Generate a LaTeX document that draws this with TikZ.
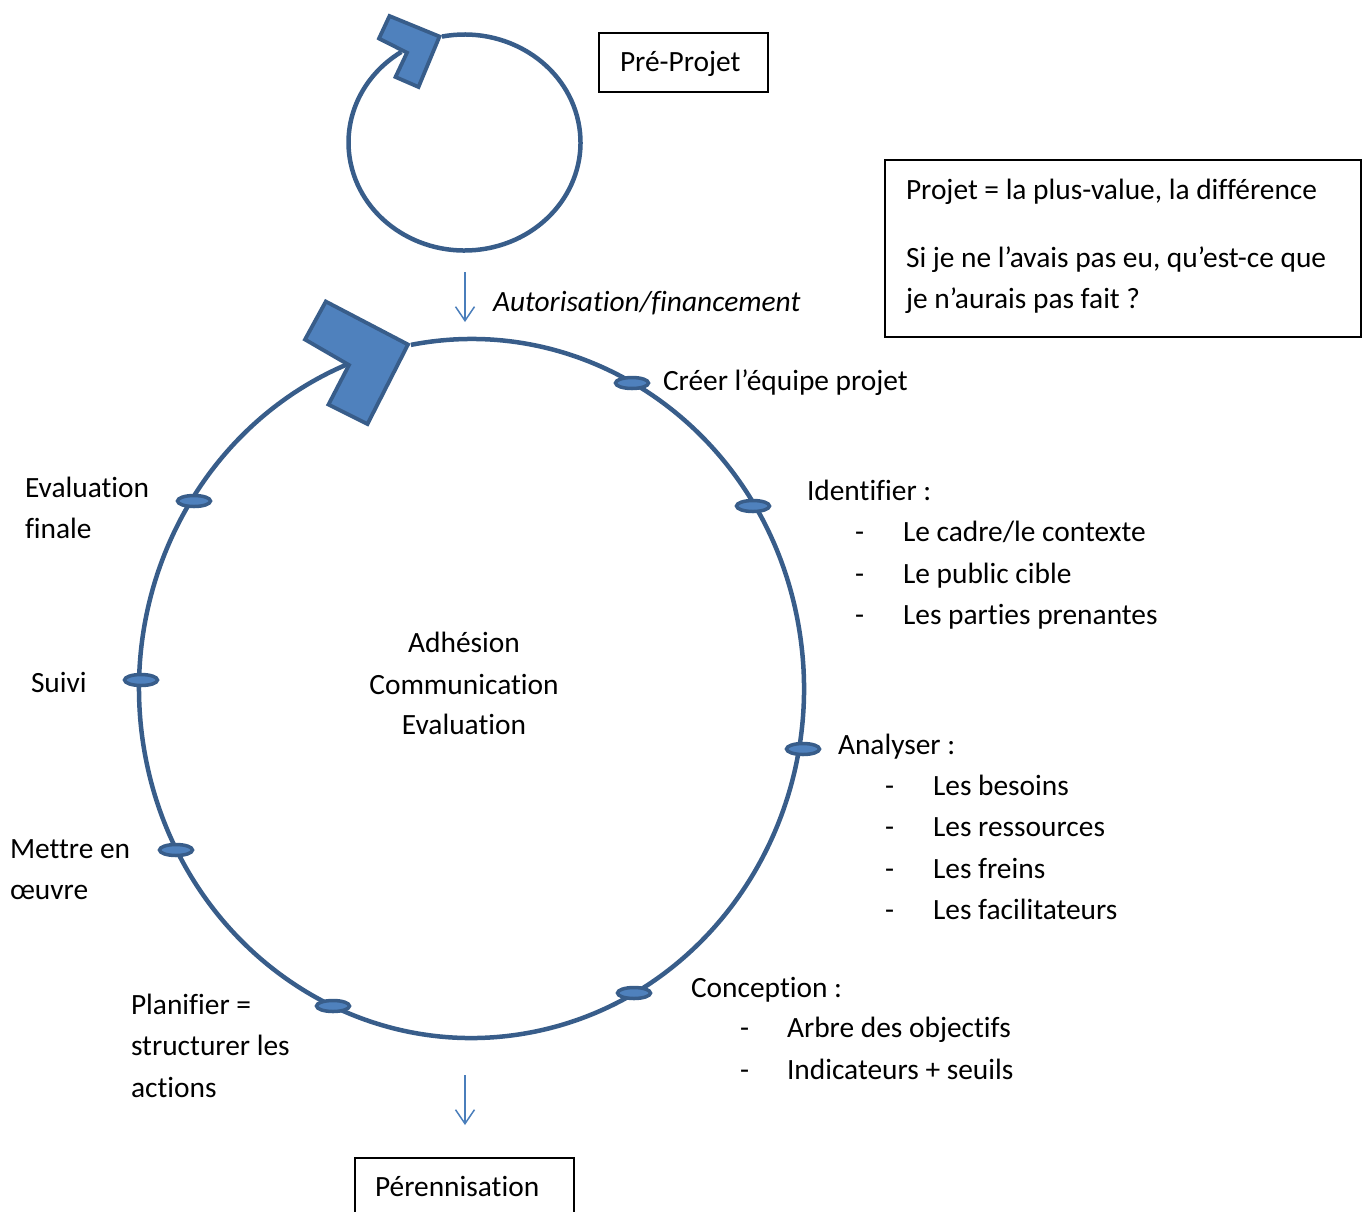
\documentclass[tikz,border=0pt]{standalone}
\usepackage{fontspec}
\setmainfont{Carlito}[Ligatures={NoCommon}]
\usetikzlibrary{arrows.meta,shapes.geometric}
\definecolor{lineblue}{HTML}{385D8A}
\definecolor{fillblue}{HTML}{4F81BD}
\definecolor{arrowblue}{HTML}{4A7EBB}
\begin{document}
\begin{tikzpicture}[x=1pt,y=-1pt,
  txt/.style={inner sep=0pt, outer sep=0pt, anchor=base west, font=\fontsize{29.4}{35}\selectfont},
  ctxt/.style={txt, anchor=base},
  itxt/.style={txt, font=\fontsize{29.4}{35}\selectfont\itshape},
  ring/.style={draw=lineblue, line width=4.5pt},
  headshape/.style={draw=lineblue, fill=fillblue, line width=3.8pt, line join=miter},
  marker/.style={ellipse, draw=lineblue, fill=fillblue, line width=3.5pt, minimum width=33pt, minimum height=11pt, inner sep=0pt},
  flowarrow/.style={draw=arrowblue, line width=1.5pt, -{Straight Barb[length=14pt,width=19pt]}},
  framebox/.style={draw=black, line width=1.3pt, outer sep=0pt, anchor=north west}
]
\useasboundingbox (0,0) rectangle (1368,1211);

% small circular arrow (pre-projet)
\coordinate (c1) at (464.5,142.5);
\draw[ring] (c1) ++(-101.2:116 and 108) arc[start angle=-101.2, end angle=237, x radius=116, y radius=108];
\draw[headshape] (389.5,16) -- (439.5,36.5) -- (418.5,87) -- (395.5,77) -- (407,52.7) -- (379,38.5) -- cycle;

% big circular arrow (project cycle)
\coordinate (c2) at (471.5,688.5);
\draw[ring] (c2) ++(-100.5:332.5 and 349.5) arc[start angle=-100.5, end angle=248, x radius=332.5, y radius=349.5];
\draw[headshape] (325.8,301.5) -- (408,344.5) -- (367.5,424) -- (328.5,404.5) -- (349,365) -- (305,339.5) -- cycle;

% markers on the cycle
\node[marker] (mcreer) at (632,383) {};
\node[marker] (mident) at (753,506) {};
\node[marker] (manal) at (803,749) {};
\node[marker] (mconc) at (634,993) {};
\node[marker] (mplan) at (333,1006) {};
\node[marker] (mmettre) at (176,850) {};
\node[marker] (msuivi) at (141,680) {};
\node[marker] (meval) at (194,501) {};

% boxes
\node[framebox, align=left, inner xsep=21pt, inner ysep=8pt, text width=127pt, text height=30pt, text depth=13pt,
      font=\fontsize{29.4}{35}\selectfont] (preprojet) at (599,33) {Pré-Projet};
\node[framebox, minimum width=476pt, minimum height=177pt, inner sep=0pt] (defbox) at (885,160) {};
\node[txt] (def1) at (906,199) {Projet = la plus-value, la différence};
\node[txt] (def2) at (906,267) {Si je ne l’avais pas eu, qu’est-ce que};
\node[txt] (def3) at (906,308) {je n’aurais pas fait ?};
\node[framebox, align=left, inner xsep=20pt, inner ysep=8pt, text width=179pt, text height=30pt, text depth=36pt,
      font=\fontsize{29.4}{35}\selectfont] (perenn) at (355,1158) {Pérennisation};

% flow arrows
\coordinate (a1s) at (465,272);
\coordinate (a1e) at (465,322);
\draw[flowarrow] (a1s) -- (a1e);
\node[itxt] (autor) at (493,311) {Autorisation/financement};
\coordinate (a2s) at (465,1075);
\coordinate (a2e) at (465,1125);
\draw[flowarrow] (a2s) -- (a2e);

% centre text
\node[ctxt] (adh) at (464,652) {Adhésion};
\node[ctxt] (comm) at (464,694) {Communication};
\node[ctxt] (evalc) at (464,734) {Evaluation};

% right labels
\node[txt] (creer) at (663,390) {Créer l’équipe projet};
\node[txt] (ident) at (807,500) {Identifier :};
\node[txt] (identd1) at (855,541) {-};
\node[txt] (ident1) at (903,541) {Le cadre/le contexte};
\node[txt] (identd2) at (855,583) {-};
\node[txt] (ident2) at (903,583) {Le public cible};
\node[txt] (identd3) at (855,624) {-};
\node[txt] (ident3) at (903,624) {Les parties prenantes};

\node[txt] (anal) at (838,754) {Analyser :};
\node[txt] (anald1) at (885,795) {-};
\node[txt] (anal1) at (933,795) {Les besoins};
\node[txt] (anald2) at (885,836) {-};
\node[txt] (anal2) at (933,836) {Les ressources};
\node[txt] (anald3) at (885,878) {-};
\node[txt] (anal3) at (933,878) {Les freins};
\node[txt] (anald4) at (885,919) {-};
\node[txt] (anal4) at (933,919) {Les facilitateurs};

\node[txt] (conc) at (691,997) {Conception :};
\node[txt] (concd1) at (740,1037) {-};
\node[txt] (conc1) at (787,1037) {Arbre des objectifs};
\node[txt] (concd2) at (740,1079) {-};
\node[txt] (conc2) at (787,1079) {Indicateurs + seuils};

% left labels
\node[txt] (evalf1) at (25,497) {Evaluation};
\node[txt] (evalf2) at (25,538) {finale};
\node[txt] (suivi) at (31,692) {Suivi};
\node[txt] (mettre1) at (10,858) {Mettre en};
\node[txt] (mettre2) at (10,899) {œuvre};
\node[txt] (plan1) at (131,1014) {Planifier =};
\node[txt] (plan2) at (131,1055) {structurer les};
\node[txt] (plan3) at (131,1097) {actions};
\end{tikzpicture}
\end{document}
